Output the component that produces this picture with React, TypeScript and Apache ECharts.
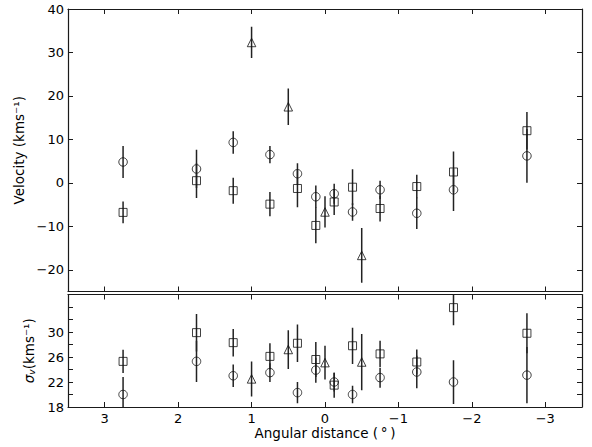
import React, { useEffect, useRef } from "react";
import * as echarts from "echarts";

// Angular distance positions (degrees)
const xPos = [2.75, 1.75, 1.25, 0.75, 0.375, 0.125, -0.125, -0.375, -0.75, -1.25, -1.75, -2.75];
const triX = [1.0, 0.5, 0, -0.5];

// Velocity panel
const velCircle = [4.8, 3.2, 9.3, 6.5, 2.1, -3.2, -2.5, -6.7, -1.6, -7.0, -1.6, 6.2];
const velCircleErr = [3.7, 4.4, 2.6, 2.0, 2.4, 2.6, 2.3, 2.0, 2.1, 3.6, 4.9, 6.2];
const velSquare = [-6.8, 0.5, -1.8, -4.9, -1.3, -9.8, -4.4, -1.0, -5.9, -0.85, 2.5, 12.0];
const velSquareErr = [2.5, 4.0, 3.0, 2.8, 4.3, 4.1, 3.0, 4.1, 3.0, 2.7, 4.7, 4.3];
const velTri = [32.3, 17.5, -6.7, -16.7];
const velTriErr = [3.6, 4.2, 3.6, 6.3];

// Dispersion panel
const sigCircle = [20.0, 25.3, 23.0, 23.5, 20.3, 23.9, 22.0, 20.0, 22.7, 23.6, 22.0, 23.1];
const sigCircleErr = [2.8, 3.3, 1.8, 1.5, 1.7, 2.0, 1.5, 1.4, 1.6, 2.6, 3.5, 4.5];
const sigSquare = [25.3, 29.9, 28.3, 26.1, 28.2, 25.6, 21.5, 27.8, 26.5, 25.2, 33.9, 29.8];
const sigSquareErr = [1.85, 3.0, 2.2, 2.1, 3.0, 2.8, 2.0, 2.9, 2.1, 2.0, 2.8, 3.2];
const sigTri = [22.5, 27.2, 25.1, 25.2];
const sigTriErr = [2.8, 3.1, 2.7, 4.5];

// Tick values
const xTicks = [-3, -2, -1, 0, 1, 2, 3];
const velTicks = [-20, -10, 0, 10, 20, 30, 40];
const sigTicks = [18, 20, 22, 24, 26, 28, 30, 32, 34];
const sigLabels = [18, 22, 26, 30];

const FONT = "DejaVu Sans";
const AX = "#1a1a1a";
const TICK_FS = 13;
const TITLE_FS = 13.5;

const minus = (v: number) => String(v).replace("-", "\u2212");

function errData(xs: number[], ys: number[], es: number[]) {
  return xs.map((x, i) => [x, ys[i] - es[i], ys[i] + es[i]]);
}
function ptData(xs: number[], ys: number[]) {
  return xs.map((x, i) => [x, ys[i]]);
}

function errSeries(xi: number, yi: number, data: number[][]) {
  return {
    type: "custom",
    xAxisIndex: xi,
    yAxisIndex: yi,
    clip: true,
    data,
    renderItem: (_p: any, api: any) => {
      const a = api.coord([api.value(0), api.value(1)]);
      const b = api.coord([api.value(0), api.value(2)]);
      return {
        type: "line",
        shape: { x1: a[0], y1: a[1], x2: b[0], y2: b[1] },
        style: { stroke: "#222", lineWidth: 1.5 },
      };
    },
    z: 2,
  };
}

function markSeries(xi: number, yi: number, data: number[][], symbol: string, size: number) {
  return {
    type: "scatter",
    xAxisIndex: xi,
    yAxisIndex: yi,
    data,
    symbol,
    symbolSize: size,
    itemStyle: { color: "rgba(0,0,0,0)", borderColor: "#111", borderWidth: 1 },
    z: 3,
  };
}

function xAxisDef(gi: number, position: string, showLabel: boolean, name?: string) {
  return {
    type: "value",
    gridIndex: gi,
    position,
    min: -3.5,
    max: 3.5,
    inverse: true,
    splitLine: { show: false },
    axisLine: { show: true, onZero: false, lineStyle: { color: AX, width: 1.2 } },
    axisTick: { show: true, inside: true, length: 5, customValues: xTicks, lineStyle: { color: AX } },
    axisLabel: {
      show: showLabel,
      customValues: xTicks,
      formatter: (v: number) => minus(v),
      fontFamily: FONT,
      fontSize: TICK_FS,
      color: "#000",
      margin: 5,
    },
    name: name || "",
    nameLocation: "middle",
    nameGap: 18,
    nameTextStyle: { fontFamily: FONT, fontSize: TITLE_FS, color: "#000", verticalAlign: "top" },
  };
}

function yAxisDef(
  gi: number,
  position: string,
  min: number,
  max: number,
  ticks: number[],
  labels: number[],
  showLabel: boolean,
  extra: any = {}
) {
  return {
    type: "value",
    gridIndex: gi,
    position,
    min,
    max,
    splitLine: { show: false },
    axisLine: { show: true, onZero: false, lineStyle: { color: AX, width: 1.2 } },
    axisTick: { show: true, inside: true, length: 5, customValues: ticks, lineStyle: { color: AX } },
    axisLabel: {
      show: showLabel,
      customValues: labels,
      formatter: (v: number) => minus(v),
      fontFamily: FONT,
      fontSize: TICK_FS,
      color: "#000",
      margin: 4,
    },
    ...extra,
  };
}

export default function App() {
  const ref = useRef<HTMLDivElement>(null);
  useEffect(() => {
    if (!ref.current) return;
    const chart = echarts.init(ref.current, undefined, { renderer: "svg" });
    chart.setOption({
      animation: false,
      backgroundColor: "#fff",
      grid: [
        { left: 68, right: 10, top: 9, height: 282.5 },
        { left: 68, right: 10, top: 294.5, height: 112.5 },
      ],
      xAxis: [
        xAxisDef(0, "bottom", false),
        xAxisDef(0, "top", false),
        xAxisDef(1, "bottom", true, "Angular distance (\u2009\u00b0\u2009)"),
        xAxisDef(1, "top", false),
      ],
      yAxis: [
        yAxisDef(0, "left", -25, 40, velTicks, velTicks, true, {
          name: "Velocity (kms\u207b\u00b9)",
          nameLocation: "middle",
          nameRotate: 90,
          nameGap: 35,
          nameTextStyle: { fontFamily: FONT, fontSize: TITLE_FS, color: "#000" },
        }),
        yAxisDef(0, "right", -25, 40, velTicks, velTicks, false),
        yAxisDef(1, "left", 18, 36, sigTicks, sigLabels, true, {
          name: "{s|\u03c3}{v|v}{t|(kms\u207b\u00b9)}",
          nameLocation: "middle",
          nameRotate: 90,
          nameGap: 26,
          nameTextStyle: {
            fontFamily: FONT,
            fontSize: TITLE_FS,
            color: "#000",
            rich: {
              s: { fontFamily: FONT, fontSize: TITLE_FS, fontStyle: "italic", color: "#000" },
              v: { fontFamily: FONT, fontSize: 9, fontStyle: "italic", color: "#000", verticalAlign: "bottom", padding: [6, 0, 0, 0] },
              t: { fontFamily: FONT, fontSize: TITLE_FS, color: "#000" },
            },
          },
        }),
        yAxisDef(1, "right", 18, 36, sigTicks, sigLabels, false),
      ],
      series: [
        errSeries(0, 0, errData(xPos, velCircle, velCircleErr)),
        errSeries(0, 0, errData(xPos, velSquare, velSquareErr)),
        errSeries(0, 0, errData(triX, velTri, velTriErr)),
        markSeries(0, 0, ptData(xPos, velCircle), "circle", 8.5),
        markSeries(0, 0, ptData(xPos, velSquare), "rect", 8),
        markSeries(0, 0, ptData(triX, velTri), "triangle", 8.5),
        errSeries(2, 2, errData(xPos, sigCircle, sigCircleErr)),
        errSeries(2, 2, errData(xPos, sigSquare, sigSquareErr)),
        errSeries(2, 2, errData(triX, sigTri, sigTriErr)),
        markSeries(2, 2, ptData(xPos, sigCircle), "circle", 8.5),
        markSeries(2, 2, ptData(xPos, sigSquare), "rect", 8),
        markSeries(2, 2, ptData(triX, sigTri), "triangle", 8.5),
      ],
    });
    return () => chart.dispose();
  }, []);
  return <div ref={ref} style={{ width: 592, height: 447, position: "absolute", left: 0, top: 0 }} />;
}
